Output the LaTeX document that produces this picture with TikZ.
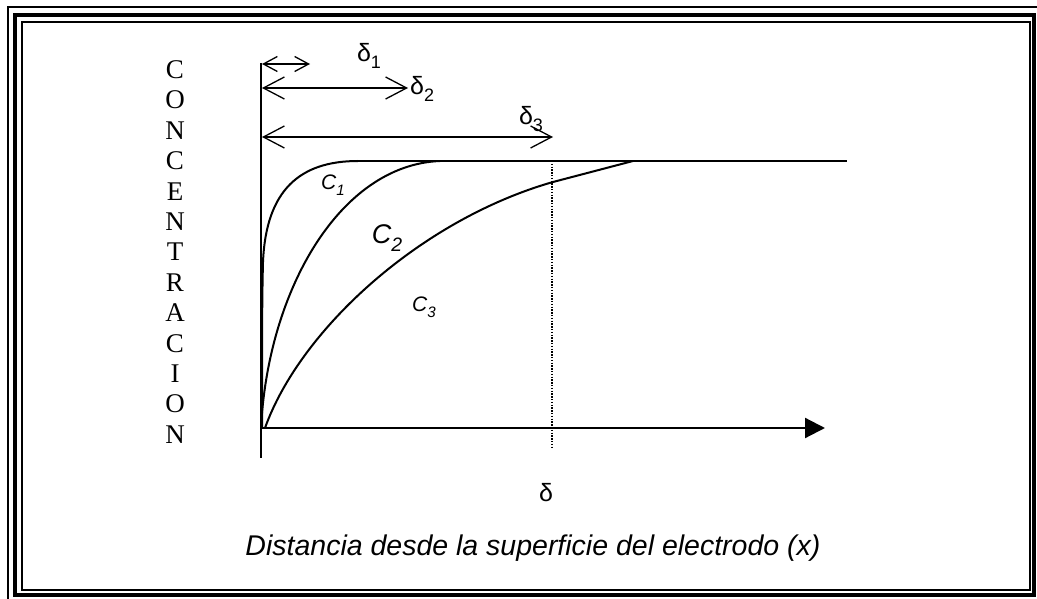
\documentclass[tikz,border=0pt]{standalone}
\usepackage{fontspec}
\setmainfont{Liberation Serif}
\newfontfamily\arialf{Liberation Sans}
\usetikzlibrary{arrows.meta}
\newcommand{\mysub}[1]{\raisebox{-0.28em}{\scalebox{0.72}{#1}}}
\begin{document}
\begin{tikzpicture}[x=1pt,y=-1pt,
  curveline/.style={line width=2pt},
  axisline/.style={line width=2.2pt},
  dimarrow/.style={line width=1.3pt},
  smallbarb/.style={{Straight Barb[length=14pt,width=15pt]}-{Straight Barb[length=14pt,width=15pt]}},
  bigbarb/.style={{Straight Barb[length=21pt,width=22pt]}-{Straight Barb[length=21pt,width=22pt]}},
  dlbl/.style={font=\arialf\fontsize{25}{25}\selectfont, inner sep=0pt},
  clbl/.style={font=\arialf\itshape\fontsize{21}{21}\selectfont, inner sep=0pt},
]
\useasboundingbox (0,0) rectangle (1037,599);
\fill[white] (0,0) rectangle (1037,599);
% frame
\draw[line width=1.5pt] (8,599) -- (8,7) -- (1037,7);
\draw[line width=4pt] (15,15) rectangle (1034,595);
\draw[line width=1.5pt] (22,22) rectangle (1030,590);

% axes
\coordinate (O) at (261,428);
\coordinate (Ytop) at (261,63);
\coordinate (Ybot) at (261,458);
\coordinate (Xend) at (825,428);
\draw[axisline] (Ytop) -- (Ybot);
\draw[axisline, -{Triangle[length=20pt,width=20pt]}] (O) -- (Xend);

% plateau
\coordinate (P1) at (358,161);
\coordinate (P2) at (847,161);
\draw[curveline] (P1) -- (P2);

% curves
\coordinate (C1a) at (262,428);
\coordinate (C1b) at (263,262);
\coordinate (C2a) at (261,428);
\coordinate (C2b) at (440,161);
\coordinate (C3a) at (265,428);
\coordinate (C3b) at (553,182);
\coordinate (C3c) at (633,161);
\draw[curveline] (C1a) .. controls (262,340) and (262,300) .. (C1b)
  .. controls (266,190) and (300,161) .. (P1);
\draw[curveline] (C2a) .. controls (268,290) and (340,165) .. (C2b);
\draw[curveline] (C3a) .. controls (300,330) and (420,220) .. (C3b) -- (C3c);

% dotted delta line
\coordinate (Dt) at (552,161);
\coordinate (Db) at (552,448);
\draw[line width=1.6pt, dash pattern=on 1.4pt off 1.4pt] (Dt) -- (Db);

% thickness arrows
\coordinate (A1l) at (262,64);  \coordinate (A1r) at (310,64);
\coordinate (A2l) at (262,88);  \coordinate (A2r) at (408,88);
\coordinate (A3l) at (262,137); \coordinate (A3r) at (553,137);
\draw[dimarrow, smallbarb] (A1l) -- (A1r);
\draw[dimarrow, bigbarb] (A2l) -- (A2r);
\draw[dimarrow, bigbarb] (A3l) -- (A3r);

\node[dlbl] (d1) at (369,56) {δ\mysub{1}};
\node[dlbl, anchor=west] (d2) at (410,89) {δ\mysub{2}};
\node[dlbl] (d3) at (531,119) {δ\mysub{3}};
\node[dlbl] (d) at (546,493) {δ};

\node[clbl] (c1) at (333,185) {C\mysub{1}};
\node[clbl, font=\arialf\itshape\fontsize{27}{27}\selectfont] (c2) at (387,238) {C\mysub{2}};
\node[clbl] (c3) at (424,307) {C\mysub{3}};

\node[font=\fontsize{27}{30.4}\selectfont, align=center, inner sep=0pt] (conc) at (175,252)
  {C\\O\\N\\C\\E\\N\\T\\R\\A\\C\\I\\O\\N};

\node[font=\arialf\itshape\fontsize{28.5}{28.5}\selectfont, inner sep=0pt] (xlabel) at (533,548)
  {Distancia desde la superficie del electrodo (x)};
\end{tikzpicture}
\end{document}
